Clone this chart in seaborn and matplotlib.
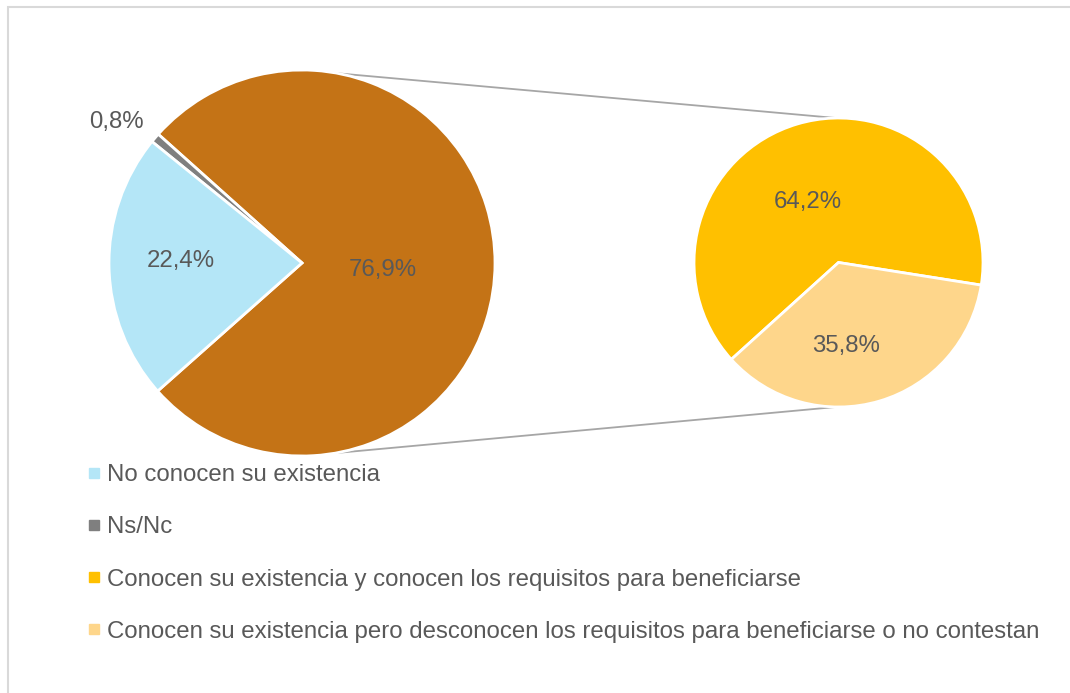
import numpy as np
import matplotlib
matplotlib.use("Agg")
import matplotlib.pyplot as plt
import seaborn as sns
from matplotlib.lines import Line2D
from matplotlib.patches import Rectangle

# ---- data ----
main_labels = ["Conocen su existencia", "Ns/Nc", "No conocen su existencia"]
main_values = [76.9, 0.8, 22.4]
sub_labels = ["Conocen su existencia y conocen los requisitos para beneficiarse",
              "Conocen su existencia pero desconocen los requisitos para beneficiarse o no contestan"]
sub_values = [64.2, 35.8]
legend_labels = ["No conocen su existencia", "Ns/Nc",
                 "Conocen su existencia y conocen los requisitos para beneficiarse",
                 "Conocen su existencia pero desconocen los requisitos para beneficiarse o no contestan"]

# ---- style ----
sns.set_theme(style="white")
plt.rcParams['font.family'] = ['Liberation Sans', 'DejaVu Sans']
main_colors = sns.color_palette(["#C47316", "#7F7F7F", "#B4E6F7"])
sub_colors = sns.color_palette(["#FFC000", "#FED68B"])
legend_colors = ["#B4E6F7", "#7F7F7F", "#FFC000", "#FED68B"]
text_color = "#595959"
FS = 17.3

W, H = 1070, 693
fig = plt.figure(figsize=(W / 100, H / 100), dpi=100)
ax = fig.add_axes([0, 0, 1, 1])
ax.set_xlim(0, W)
ax.set_ylim(0, H)
ax.set_aspect("equal")
ax.axis("off")

# border (only top/left visible)
ax.add_patch(Rectangle((8, -20), W + 40, H - 7 + 20, fill=False,
                       edgecolor="#D9D9D9", linewidth=1.5))

# left pie
c1, r1 = (302, H - 263), 193
start1 = -main_values[0] * 3.6 / 2
w1, _ = ax.pie(main_values, colors=main_colors, startangle=start1, counterclock=True,
               center=c1, radius=r1, frame=True,
               wedgeprops=dict(edgecolor="white", linewidth=2))

# right pie
c2, r2 = (838.5, H - 262.5), 144.5
w2, _ = ax.pie(sub_values, colors=sub_colors, startangle=-9, counterclock=True,
               center=c2, radius=r2, frame=True,
               wedgeprops=dict(edgecolor="white", linewidth=2))
ax.set_xlim(0, W)
ax.set_ylim(0, H)
ax.axis("off")

def fmt(v):
    return f"{v:.1f}%".replace(".", ",")

# label placement (angle deg, distance fraction of radius)
main_pos = [(-5, 0.42), (142.8, 1.21), (179, 0.63)]
sub_pos = [(117, 0.47), (-85, 0.58)]
for v, (a, d) in zip(main_values, main_pos):
    x = c1[0] + d * r1 * np.cos(np.radians(a))
    y = c1[1] + d * r1 * np.sin(np.radians(a))
    ax.text(x, y, fmt(v), ha="center", va="center", fontsize=FS, color=text_color)
for v, (a, d) in zip(sub_values, sub_pos):
    x = c2[0] + d * r2 * np.cos(np.radians(a))
    y = c2[1] + d * r2 * np.sin(np.radians(a))
    ax.text(x, y, fmt(v), ha="center", va="center", fontsize=FS, color=text_color)

# connector lines
for a_left, a_right in [(79.4, 91), (-80, -91)]:
    x0 = c1[0] + r1 * np.cos(np.radians(a_left))
    y0 = c1[1] + r1 * np.sin(np.radians(a_left))
    x1 = c2[0] + r2 * np.cos(np.radians(a_right))
    y1 = c2[1] + r2 * np.sin(np.radians(a_right))
    ax.plot([x0, x1], [y0, y1], color="#A6A6A6", linewidth=1.3, zorder=0.5)

# legend
handles = [Line2D([], [], marker="s", linestyle="", markersize=6.5,
                  markerfacecolor=c, markeredgecolor=c) for c in legend_colors]
leg = fig.legend(handles, legend_labels, loc="upper left",
                 bbox_to_anchor=(89 / W, 1 - 464 / H), frameon=False,
                 fontsize=FS, labelcolor=text_color, handlelength=0.4,
                 handletextpad=0.35, labelspacing=1.26, borderpad=0, borderaxespad=0)

fig.savefig("out.png", dpi=100)
